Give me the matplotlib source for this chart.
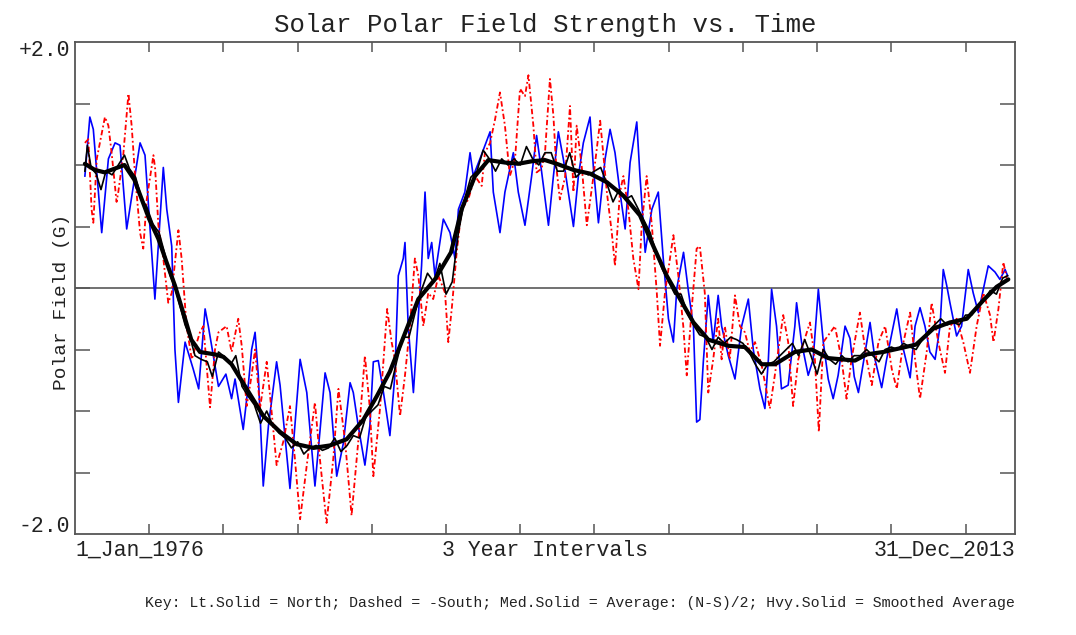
import matplotlib
matplotlib.use("Agg")
import matplotlib.pyplot as plt

# ---------------- data ----------------
north_t = [1976.40, 1976.60, 1976.74, 1977.08, 1977.35, 1977.62, 1977.82, 1978.09, 1978.63, 1978.83,
           1979.23, 1979.57, 1979.71, 1979.91, 1980.04, 1980.18, 1980.45, 1980.78, 1981.00, 1981.26,
           1981.39, 1981.80, 1982.10, 1982.33, 1982.47, 1982.80, 1983.00, 1983.14, 1983.28, 1983.41,
           1983.61, 1983.82, 1984.15, 1984.29, 1984.69, 1984.89, 1985.10, 1985.37, 1985.70, 1985.90,
           1986.11, 1986.31, 1986.58, 1986.85, 1987.12, 1987.25, 1987.45, 1987.72, 1987.92, 1988.06,
           1988.26, 1988.47, 1988.67, 1988.73, 1988.93, 1989.07, 1989.27, 1989.34, 1989.47, 1989.68,
           1989.81, 1990.01, 1990.15, 1990.28, 1990.42, 1990.55, 1990.89, 1991.16, 1991.36, 1991.50,
           1991.76, 1991.97, 1992.10, 1992.37, 1992.78, 1992.91, 1993.18, 1993.38, 1993.72, 1993.92,
           1994.19, 1994.46, 1994.66, 1994.86, 1995.14, 1995.34, 1995.54, 1995.74, 1995.94, 1996.15,
           1996.35, 1996.55, 1996.82, 1996.96, 1997.16, 1997.43, 1997.63, 1997.83, 1998.03, 1998.24,
           1998.44, 1998.71, 1998.84, 1999.05, 1999.32, 1999.58, 1999.78, 1999.99, 2000.19, 2000.33,
           2000.60, 2000.80, 2001.00, 2001.13, 2001.26, 2001.40, 2001.60, 2001.80, 2002.00, 2002.14,
           2002.41, 2002.68, 2002.95, 2003.22, 2003.42, 2003.69, 2003.89, 2004.03, 2004.16, 2004.36,
           2004.56, 2004.83, 2005.10, 2005.17, 2005.37, 2005.64, 2005.84, 2006.05, 2006.25, 2006.45,
           2006.65, 2006.85, 2007.13, 2007.33, 2007.50, 2007.67, 2007.94, 2008.14, 2008.34, 2008.61,
           2008.81, 2009.22, 2009.42, 2009.76, 2009.96, 2010.16, 2010.36, 2010.56, 2010.77, 2010.97,
           2011.10, 2011.24, 2011.37, 2011.64, 2011.84, 2012.11, 2012.31, 2012.52, 2012.72, 2012.92,
           2013.19, 2013.39, 2013.60, 2013.70]
north_v = [0.91, 1.39, 1.29, 0.45, 1.05, 1.18, 1.16, 0.48, 1.18, 1.08,
           -0.09, 0.98, 0.64, 0.34, -0.50, -0.93, -0.44, -0.66, -0.82, -0.17,
           -0.31, -0.80, -0.70, -0.90, -0.74, -1.15, -0.80, -0.50, -0.36, -0.71,
           -1.61, -1.12, -0.60, -0.79, -1.63, -1.12, -0.58, -0.85, -1.61, -1.17,
           -0.69, -0.85, -1.53, -1.26, -0.77, -0.85, -1.12, -1.44, -1.12, -0.60,
           -0.59, -0.85, -1.12, -1.20, -0.71, 0.10, 0.24, 0.37, -0.31, -0.85,
           -0.44, 0.18, 0.78, 0.24, 0.37, 0.10, 0.56, 0.45, 0.24, 0.64,
           0.78, 1.10, 0.91, 1.05, 1.27, 0.78, 0.45, 0.78, 1.10, 0.78,
           0.51, 0.91, 1.24, 0.95, 0.51, 0.91, 1.27, 1.05, 0.78, 0.50,
           0.91, 1.18, 1.39, 0.97, 0.53, 1.05, 1.29, 1.10, 0.78, 0.48,
           1.02, 1.35, 0.91, 0.29, 0.64, 0.78, 0.24, -0.25, -0.44, 0.00,
           0.29, -0.03, -0.31, -1.09, -1.07, -0.60, -0.06, -0.44, -0.06, -0.31,
           -0.55, -0.74, -0.31, -0.09, -0.50, -0.82, -0.98, -0.58, -0.01, -0.31,
           -0.82, -0.79, -0.31, -0.12, -0.44, -0.71, -0.58, -0.01, -0.44, -0.74,
           -0.90, -0.71, -0.31, -0.41, -0.72, -0.85, -0.52, -0.28, -0.58, -0.81,
           -0.58, -0.17, -0.44, -0.73, -0.31, -0.16, -0.31, -0.52, -0.58, -0.31,
           0.15, 0.02, -0.12, -0.39, -0.31, 0.15, -0.04, -0.20, -0.01, 0.18,
           0.13, 0.07, 0.15, 0.10]

south_t = [1976.40, 1976.54, 1976.67, 1976.74, 1976.88, 1977.21, 1977.35, 1977.48, 1977.68, 1977.75,
           1977.95, 1978.16, 1978.29, 1978.43, 1978.63, 1978.76, 1978.90, 1979.17, 1979.24, 1979.37,
           1979.57, 1979.77, 1979.91, 1980.18, 1980.31, 1980.51, 1980.72, 1981.05, 1981.19, 1981.46,
           1981.66, 1981.80, 1982.13, 1982.33, 1982.60, 1982.74, 1982.94, 1983.14, 1983.28, 1983.48,
           1983.75, 1983.95, 1984.15, 1984.42, 1984.69, 1984.89, 1985.10, 1985.37, 1985.70, 1985.90,
           1986.17, 1986.44, 1986.65, 1986.92, 1987.18, 1987.45, 1987.72, 1987.92, 1988.06, 1988.33,
           1988.62, 1988.80, 1988.93, 1989.14, 1989.34, 1989.54, 1989.74, 1989.88, 1990.08, 1990.28,
           1990.48, 1990.69, 1990.96, 1991.09, 1991.23, 1991.43, 1991.63, 1991.90, 1992.17, 1992.44,
           1992.57, 1992.78, 1992.98, 1993.18, 1993.38, 1993.58, 1993.79, 1993.99, 1994.19, 1994.33,
           1994.53, 1994.66, 1994.86, 1995.00, 1995.20, 1995.34, 1995.45, 1995.60, 1995.81, 1996.01,
           1996.15, 1996.28, 1996.48, 1996.69, 1996.96, 1997.23, 1997.50, 1997.70, 1997.83, 1998.03,
           1998.17, 1998.37, 1998.57, 1998.78, 1998.91, 1999.11, 1999.32, 1999.52, 1999.65, 1999.85,
           2000.19, 2000.39, 2000.59, 2000.73, 2000.93, 2001.13, 2001.26, 2001.46, 2001.60, 2001.80,
           2002.00, 2002.14, 2002.27, 2002.47, 2002.68, 2002.88, 2003.08, 2003.28, 2003.49, 2003.76,
           2004.09, 2004.29, 2004.63, 2004.83, 2005.03, 2005.24, 2005.71, 2005.91, 2006.07, 2006.25,
           2006.72, 2006.99, 2007.19, 2007.39, 2007.73, 2008.00, 2008.21, 2008.48, 2008.75, 2009.02,
           2009.22, 2009.49, 2009.76, 2009.96, 2010.16, 2010.43, 2010.63, 2010.90, 2011.17, 2011.37,
           2011.64, 2011.91, 2012.18, 2012.45, 2012.72, 2012.99, 2013.13, 2013.33, 2013.53, 2013.66]
south_v = [1.18, 1.21, 0.64, 0.53, 1.05, 1.39, 1.32, 1.10, 0.70, 0.78,
           1.08, 1.58, 1.32, 0.91, 0.45, 0.32, 0.72, 1.08, 0.97, 0.51,
           0.24, -0.12, -0.04, 0.47, 0.24, -0.31, -0.58, -0.36, -0.31, -0.97,
           -0.50, -0.36, -0.31, -0.52, -0.25, -0.47, -0.96, -0.71, -0.50, -0.98,
           -0.60, -1.01, -1.44, -1.25, -0.96, -1.39, -1.88, -1.44, -0.93, -1.39,
           -1.91, -1.39, -0.82, -1.25, -1.85, -1.25, -0.55, -0.98, -1.53, -0.98,
           -0.17, -0.44, -0.58, -1.04, -0.71, -0.31, 0.24, 0.10, -0.31, -0.04,
           -0.09, 0.10, -0.04, -0.44, -0.17, 0.29, 0.64, 0.72, 0.91, 0.83,
           1.10, 1.18, 1.37, 1.59, 1.32, 0.91, 1.05, 1.62, 1.56, 1.73,
           1.32, 0.94, 0.97, 1.10, 1.70, 1.40, 1.00, 0.72, 0.90, 1.48,
           0.78, 1.32, 1.00, 0.51, 0.91, 1.36, 0.78, 0.45, 0.18, 0.78,
           0.91, 0.64, 0.24, -0.01, 0.51, 0.91, 0.51, -0.04, -0.47, -0.04,
           0.43, 0.10, -0.31, -0.71, -0.17, 0.32, 0.34, -0.04, -0.85, -0.58,
           -0.25, -0.58, -0.31, -0.58, -0.06, -0.31, -0.36, -0.52, -0.44, -0.63,
           -0.98, -0.71, -0.22, -0.44, -0.96, -0.58, -0.28, -0.58, -1.17, -0.44,
           -0.31, -0.58, -0.90, -0.58, -0.20, -0.58, -0.79, -0.44, -0.31, -0.66,
           -0.82, -0.44, -0.20, -0.58, -0.90, -0.52, -0.12, -0.44, -0.69, -0.31,
           -0.25, -0.44, -0.69, -0.31, -0.04, -0.22, -0.44, -0.17, 0.21, 0.08]

avg_t = [1976.40, 1976.50, 1976.65, 1976.85, 1977.05, 1977.25, 1977.50, 1977.75, 1978.00, 1978.20,
         1978.45, 1978.70, 1978.90, 1979.15, 1979.40, 1979.60, 1979.85, 1980.05, 1980.25, 1980.45,
         1980.65, 1980.85, 1981.10, 1981.35, 1981.55, 1981.80, 1982.05, 1982.30, 1982.50, 1982.75,
         1983.00, 1983.25, 1983.50, 1983.75, 1984.00, 1984.25, 1984.50, 1984.75, 1985.00, 1985.25,
         1985.50, 1985.75, 1986.00, 1986.25, 1986.50, 1986.75, 1987.00, 1987.25, 1987.50, 1987.75,
         1988.00, 1988.25, 1988.50, 1988.75, 1989.00, 1989.25, 1989.50, 1989.75, 1990.00, 1990.25,
         1990.50, 1990.75, 1991.00, 1991.25, 1991.50, 1991.75, 1992.00, 1992.25, 1992.50, 1992.75,
         1993.00, 1993.25, 1993.50, 1993.75, 1994.00, 1994.25, 1994.50, 1994.75, 1995.00, 1995.25,
         1995.50, 1995.75, 1996.00, 1996.25, 1996.50, 1996.75, 1997.00, 1997.25, 1997.50, 1997.75,
         1998.00, 1998.25, 1998.50, 1998.75, 1999.00, 1999.25, 1999.50, 1999.75, 2000.00, 2000.25,
         2000.50, 2000.75, 2001.00, 2001.25, 2001.50, 2001.75, 2002.00, 2002.25, 2002.50, 2002.75,
         2003.00, 2003.25, 2003.50, 2003.75, 2004.00, 2004.25, 2004.50, 2004.75, 2005.00, 2005.25,
         2005.50, 2005.75, 2006.00, 2006.25, 2006.50, 2006.75, 2007.00, 2007.25, 2007.50, 2007.75,
         2008.00, 2008.25, 2008.50, 2008.75, 2009.00, 2009.25, 2009.50, 2009.75, 2010.00, 2010.25,
         2010.50, 2010.75, 2011.00, 2011.25, 2011.50, 2011.75, 2012.00, 2012.25, 2012.50, 2012.75,
         2013.00, 2013.25, 2013.50, 2013.70]
avg_v = [0.95, 1.16, 0.98, 0.93, 0.80, 0.95, 0.92, 1.00, 1.08, 0.97,
         0.90, 0.72, 0.66, 0.52, 0.45, 0.30, 0.10, 0.00, -0.15, -0.30,
         -0.40, -0.55, -0.58, -0.60, -0.72, -0.52, -0.56, -0.62, -0.55, -0.80,
         -0.88, -0.95, -1.10, -1.00, -1.12, -1.18, -1.22, -1.30, -1.25, -1.35,
         -1.30, -1.28, -1.32, -1.30, -1.22, -1.33, -1.28, -1.20, -1.22, -1.05,
         -1.00, -0.95, -0.80, -0.82, -0.60, -0.40, -0.40, -0.20, -0.02, 0.12,
         0.05, 0.20, -0.05, 0.05, 0.45, 0.72, 0.90, 0.95, 1.12, 1.05,
         0.95, 1.05, 1.00, 1.05, 1.00, 1.15, 1.05, 1.00, 1.10, 1.10,
         0.95, 0.95, 1.10, 0.90, 0.95, 0.92, 0.95, 0.98, 0.85, 0.70,
         0.80, 0.72, 0.75, 0.65, 0.55, 0.45, 0.28, 0.15, 0.05, -0.05,
         -0.05, -0.20, -0.30, -0.38, -0.40, -0.50, -0.40, -0.45, -0.40, -0.42,
         -0.45, -0.52, -0.62, -0.70, -0.62, -0.60, -0.55, -0.50, -0.45, -0.55,
         -0.42, -0.55, -0.70, -0.50, -0.58, -0.62, -0.55, -0.60, -0.55, -0.55,
         -0.50, -0.55, -0.60, -0.50, -0.48, -0.50, -0.45, -0.48, -0.50, -0.42,
         -0.35, -0.30, -0.25, -0.30, -0.28, -0.30, -0.22, -0.22, -0.15, -0.10,
         -0.02, -0.05, 0.08, 0.10]

smooth_t = [1976.40, 1976.80, 1977.20, 1977.60, 1978.00, 1978.40, 1978.70, 1979.00, 1979.37, 1979.70,
            1980.04, 1980.45, 1980.70, 1981.05, 1981.66, 1982.00, 1982.33, 1982.94, 1983.61, 1984.29,
            1984.96, 1985.64, 1986.31, 1986.98, 1987.66, 1988.20, 1988.73, 1989.20, 1989.88, 1990.55,
            1991.20, 1991.63, 1992.17, 1992.71, 1993.38, 1993.92, 1994.46, 1995.00, 1995.47, 1996.15,
            1996.82, 1997.50, 1998.17, 1998.84, 1999.38, 1999.92, 2000.46, 2001.00, 2001.60, 2002.41,
            2003.08, 2003.76, 2004.30, 2005.10, 2005.78, 2006.45, 2007.53, 2008.00, 2008.68, 2009.35,
            2010.00, 2010.70, 2011.37, 2012.05, 2012.72, 2013.26, 2013.73]
smooth_v = [1.01, 0.96, 0.94, 0.97, 1.00, 0.88, 0.72, 0.56, 0.40, 0.21,
            0.02, -0.25, -0.42, -0.52, -0.54, -0.56, -0.62, -0.82, -1.04, -1.17,
            -1.27, -1.30, -1.28, -1.23, -1.07, -0.88, -0.68, -0.44, -0.09, 0.07,
            0.29, 0.64, 0.91, 1.04, 1.02, 1.01, 1.03, 1.04, 1.01, 0.96,
            0.93, 0.86, 0.75, 0.59, 0.34, 0.10, -0.09, -0.28, -0.42, -0.47,
            -0.48, -0.62, -0.62, -0.52, -0.50, -0.57, -0.59, -0.54, -0.52, -0.49,
            -0.46, -0.33, -0.28, -0.25, -0.10, 0.01, 0.07]

title = "Solar Polar Field Strength vs. Time"
ylabel = "Polar Field (G)"
x_left_label = "1_Jan_1976"
x_mid_label = "3 Year Intervals"
x_right_label = "31_Dec_2013"
y_top_label = "+2.0"
y_bot_label = "-2.0"
key_text = ("Key: Lt.Solid = North; Dashed = -South; Med.Solid = Average: (N-S)/2; "
            "Hvy.Solid = Smoothed Average")
x_major = list(range(1979, 2014, 3))
y_major = [-1.5, -1.0, -0.5, 0.0, 0.5, 1.0, 1.5]

# ---------------- figure ----------------
FONT = "Liberation Mono"
W, H = 1076, 635
fig = plt.figure(figsize=(W / 100, H / 100), dpi=100)
L, R, T, B = 75, 1015, 42, 534
ax = fig.add_axes([L / W, 1 - B / H, (R - L) / W, (B - T) / H])
ax.set_xlim(1976, 2014)
ax.set_ylim(-2, 2)

ax.axhline(0, color="#666666", lw=1.3, zorder=1)
ax.plot(north_t, north_v, color="#0000ff", lw=1.2, zorder=2)
ax.plot(south_t, south_v, color="#ff0000", lw=1.3, ls=(0, (3, 1.5, 1, 1.5)), zorder=3)
ax.plot(avg_t, avg_v, color="black", lw=1.2, zorder=4)
ax.plot(smooth_t, smooth_v, color="black", lw=3.0, zorder=5, solid_capstyle="round")

for s in ax.spines.values():
    s.set_color("#555555")
    s.set_linewidth(1.3)

ax.set_xticks(x_major)
ax.set_yticks(y_major)
ax.tick_params(axis="x", direction="in", length=7, width=1.1, color="#555555",
               top=True, bottom=True, labelbottom=False)
ax.tick_params(axis="y", direction="in", length=11, width=1.1, color="#555555",
               left=True, right=True, labelleft=False)

fig.text((L + R) / 2 / W, 1 - 25 / H, title, ha="center", va="center",
         family=FONT, fontsize=18.5, color="#222222")
fig.text(70 / W, 1 - 50 / H, y_top_label, ha="right", va="center",
         family=FONT, fontsize=15.5, color="#222222")
fig.text(70 / W, 1 - 527 / H, y_bot_label, ha="right", va="center",
         family=FONT, fontsize=15.5, color="#222222")
fig.text(L / W, 1 - 550 / H, x_left_label, ha="left", va="center",
         family=FONT, fontsize=15.5, color="#222222")
fig.text((L + R) / 2 / W, 1 - 550 / H, x_mid_label, ha="center", va="center",
         family=FONT, fontsize=15.5, color="#222222")
fig.text(R / W, 1 - 550 / H, x_right_label, ha="right", va="center",
         family=FONT, fontsize=15.5, color="#222222")
fig.text(62 / W, 1 - 302 / H, ylabel, ha="center", va="center", rotation=90,
         family=FONT, fontsize=14, color="#222222")
fig.text(R / W, 1 - 603 / H, key_text, ha="right", va="center",
         family=FONT, fontsize=10.7, color="#222222")

fig.savefig("out.png", dpi=100)
